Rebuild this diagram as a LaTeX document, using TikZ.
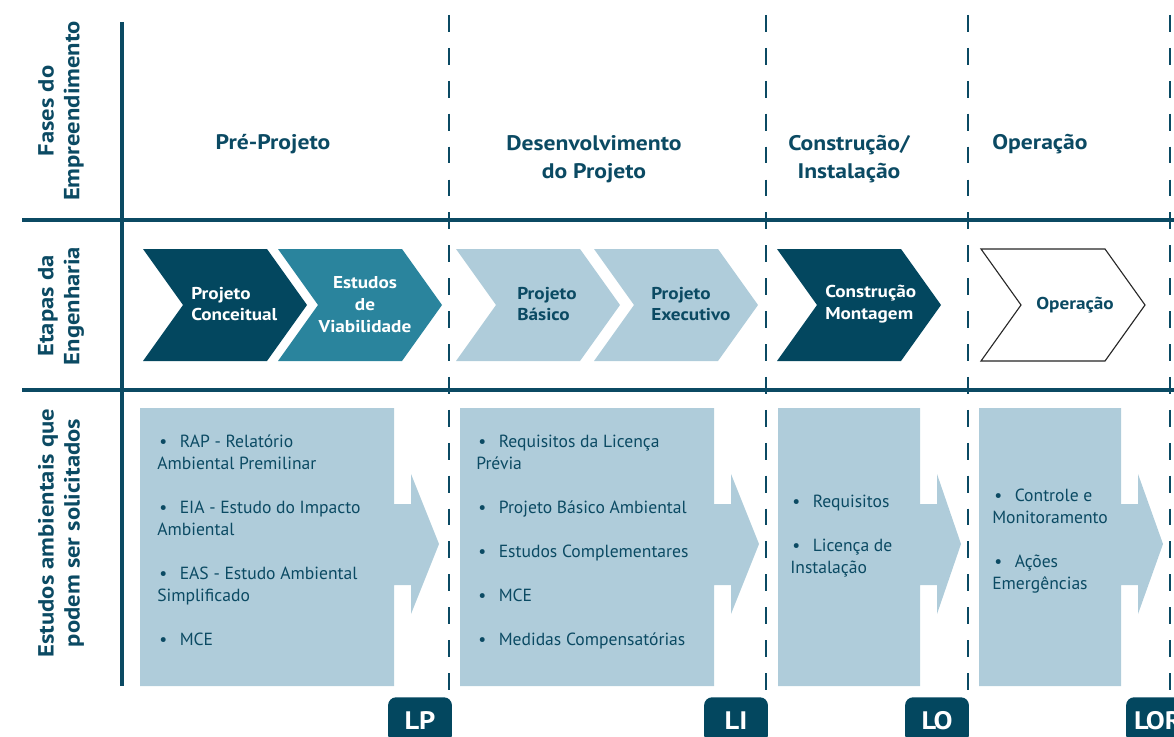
\documentclass[tikz,border=0pt]{standalone}
\usepackage{fontspec}
\setmainfont{PT Sans}[BoldFeatures={FakeStretch=1.12}]
\usepackage{tikz}
\usetikzlibrary{positioning}
\definecolor{navy}{HTML}{03475F}
\definecolor{tealstep}{HTML}{2A849D}
\definecolor{paleblue}{HTML}{AFCCDA}
\definecolor{inkblue}{HTML}{0B4A63}
\tikzset{
  gridline/.style={draw=inkblue,line width=2.8pt},
  phaseline/.style={draw=inkblue,line width=1.4pt,dash pattern=on 12pt off 11.4pt},
  rowlabel/.style={rotate=90,font=\bfseries\fontsize{15.6}{18.4}\selectfont,text=inkblue,align=center},
  phasetitle/.style={font=\bfseries\fontsize{15}{19.8}\selectfont,text=inkblue,align=center},
  steptext/.style={font=\bfseries\fontsize{12.2}{15.6}\selectfont,inner sep=0pt},
  studytext/.style={font=\fontsize{12.5}{15.6}\selectfont,text=inkblue,align=left,
    anchor=north west,inner sep=0pt},
  licbox/.style={fill=navy,rounded corners=5.7pt,text=white,anchor=north,
    font=\bfseries\fontsize{18}{20}\selectfont,minimum width=45.4pt,minimum height=32.6pt}
}
% chevron of one engineering step: left x, fill/draw options
\newcommand{\chevron}[2]{\path[#2] (#1,249) -- ++(124,0) -- ++(40,56) -- ++(-40,56)
  -- ++(-124,0) -- ++(40,-56) -- cycle;}
% study box with its arrow: left x, right x, tip x
\newcommand{\studybox}[3]{\fill[paleblue] (#1,408) -- (#2,408) -- (#2,504) -- (#2+17,504)
  -- (#2+17,474) -- (#3,544) -- (#2+17,614) -- (#2+17,585) -- (#2,585) -- (#2,686)
  -- (#1,686) -- cycle;}
\newcommand{\itm}{\makebox[16pt][l]{\hspace{1.5pt}•}}

\begin{document}
\begin{tikzpicture}[x=0.025cm,y=-0.025cm]
  \useasboundingbox (0,0) rectangle (1174,736);
  % grid
  \draw[gridline] (22,220) -- (1180,220);
  \draw[gridline] (22,390) -- (1180,390);
  \draw[inkblue,line width=2.2pt] (122,22) -- (122,686);
  \foreach \xp in {449,766,968,1170}
    \draw[phaseline] (\xp,15) -- (\xp,697);

  % row labels
  \node[rowlabel] (lblphase) at (61,111) {Fases do\\Empreendimento};
  \node[rowlabel] (lblstep) at (61,306) {Etapas da\\Engenharia};
  \node[rowlabel] (lblstudy) at (61,533) {Estudos ambientais que\\podem ser solicitados};

  % phases
  \node[phasetitle] (pre) at (273,144) {Pré-Projeto};
  \node[phasetitle] (dev) at (594,159) {Desenvolvimento\\do Projeto};
  \node[phasetitle] (build) at (849,159) {Construção/\\Instalação};
  \node[phasetitle] (oper) at (1040,144) {Operação};

  % engineering steps
  \chevron{143}{fill=navy}
  \chevron{278}{fill=tealstep}
  \chevron{456}{fill=paleblue}
  \chevron{594}{fill=paleblue}
  \chevron{777}{fill=navy}
  \chevron{981}{draw=black!85,line width=0.8pt,fill=white}
  \node[steptext,text=white,align=left,anchor=west] (concept) at (191,304) {Projeto\\Conceitual};
  \node[steptext,text=white,align=center] (viab) at (365,305) {Estudos\\de\\Viabilidade};
  \node[steptext,text=inkblue,align=left,anchor=west] (basic) at (517,304) {Projeto\\Básico};
  \node[steptext,text=inkblue,align=left,anchor=west] (exec) at (651,304) {Projeto\\Executivo};
  \node[steptext,text=white,align=left,anchor=west] (mount) at (825,304) {Construção\\Montagem};
  \node[steptext,text=inkblue] (operstep) at (1075,305) {Operação};

  % environmental studies
  \studybox{140}{394}{439}
  \studybox{460}{714}{759}
  \studybox{778}{920}{961}
  \studybox{979}{1121}{1163}
  \node[studytext] (studylp) at (157,435) {\itm RAP - Relatório\\Ambiental Premilinar\\[15.6pt]
    \itm EIA - Estudo do Impacto\\Ambiental\\[15.6pt]
    \itm EAS - Estudo Ambiental\\Simplificado\\[15.6pt]
    \itm MCE};
  \node[studytext] (studyli) at (476,435) {\itm Requisitos da Licença\\Prévia\\[15.6pt]
    \itm Projeto Básico Ambiental\\[15.6pt]
    \itm Estudos Complementares\\[15.6pt]
    \itm MCE\\[15.6pt]
    \itm Medidas Compensatórias};
  \node[studytext] (studylo) at (790,495) {\itm Requisitos\\[15.6pt]
    \itm Licença de\\Instalação};
  \node[studytext] (studylor) at (992,489) {\itm Controle e\\Monitoramento\\[15.6pt]
    \itm Ações\\Emergências};

  % licences
  \node[licbox] (lp) at (420,697) {LP};
  \node[licbox] (li) at (736,697) {LI};
  \node[licbox] (lo) at (937,697) {LO};
  \node[licbox] (lor) at (1158,697) {LOR};
\end{tikzpicture}
\end{document}
